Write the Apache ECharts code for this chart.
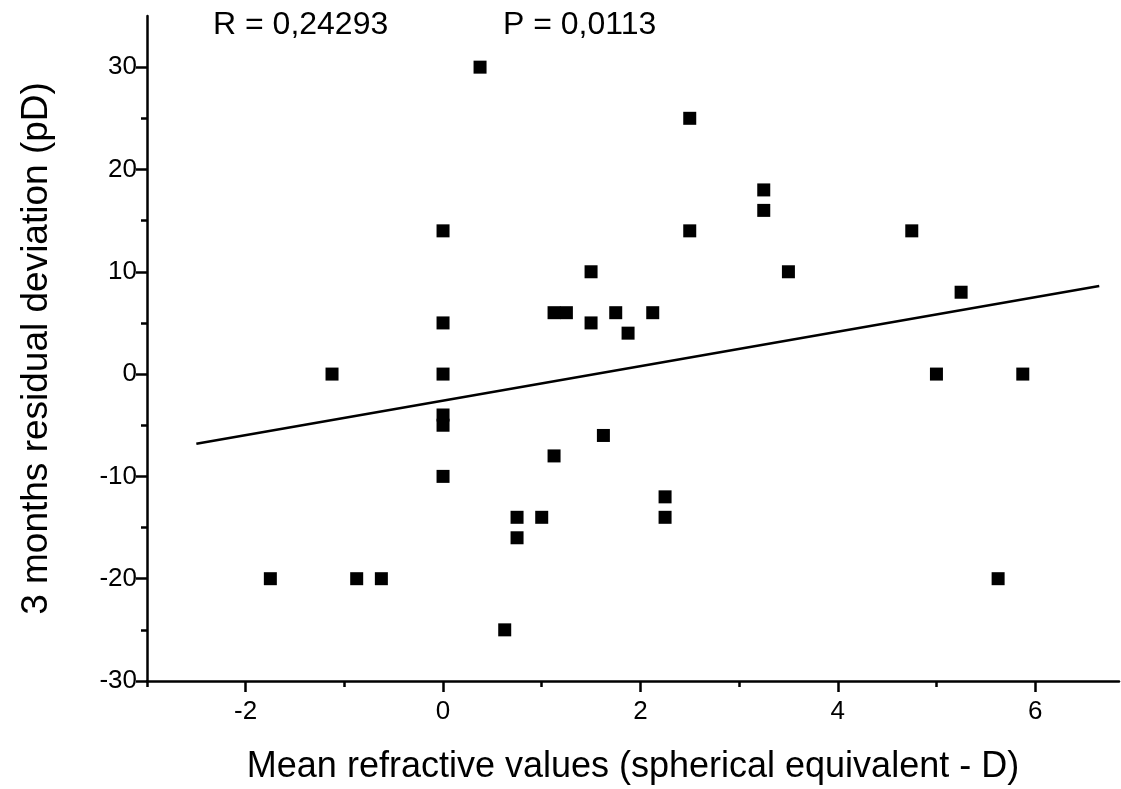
<!DOCTYPE html>
<html>
<head>
<meta charset="utf-8">
<script src="https://cdn.jsdelivr.net/npm/echarts@6/dist/echarts.min.js"></script>
<style>
html,body{margin:0;padding:0;background:#fff;}
#chart{width:1121px;height:789px;}
</style>
</head>
<body>
<div id="chart"></div>
<script>
// Data
const refractionX = [-1.75, -1.125, -0.875, -0.625, 0, 0, 0, 0, 0, 0, 0.375, 0.625, 0.75, 0.75, 1, 1.125, 1.125, 1.25, 1.5, 1.5, 1.625, 1.75, 1.875, 2.125, 2.25, 2.25, 2.5, 2.5, 3.25, 3.25, 3.5, 4.75, 5, 5.25, 5.625, 5.875];
const deviationY = [-20, 0, -20, -20, 14, 5, 0, -4, -5, -10, 30, -25, -14, -16, -14, -8, 6, 6, 10, 5, -6, 6, 4, 6, -12, -14, 25, 14, 18, 16, 10, 14, 0, 8, -20, 0];
const fitX = [-2.5, 6.65];
const fitY = [-6.8, 8.6];
const xMajorTicks = [-2, 0, 2, 4, 6];
const xMinorTicks = [-3, -1, 1, 3, 5];
const yMajorTicks = [-30, -20, -10, 0, 10, 20, 30];
const yMinorTicks = [-25, -15, -5, 5, 15, 25];
const statR = 'R = 0,24293';
const statP = 'P = 0,0113';
const xTitle = 'Mean refractive values (spherical equivalent - D)';
const yTitle = '3 months residual deviation (pD)';

const FONT = '"Liberation Sans", Arial, sans-serif';
const points = refractionX.map((x, i) => [x, deviationY[i]]);
const fitLine = fitX.map((x, i) => [x, fitY[i]]);

const chart = echarts.init(document.getElementById('chart'), null, {renderer: 'canvas'});
const axisLineStyle = {color: '#000', width: 2.5};
chart.setOption({
  animation: false,
  backgroundColor: '#fff',
  grid: {left: 147, right: 2, top: 16, bottom: 108, containLabel: false, outerBoundsMode: 'none'},
  xAxis: [{
    type: 'value', min: -3, max: 6.85,
    axisLine: {show: true, onZero: false, lineStyle: axisLineStyle},
    axisTick: {show: true, length: 11, lineStyle: {color: '#000', width: 2.5}, customValues: xMajorTicks},
    axisLabel: {show: true, customValues: xMajorTicks, color: '#000', fontSize: 26, fontFamily: FONT, margin: 18},
    splitLine: {show: false},
    name: xTitle, nameLocation: 'middle', nameGap: 68,
    nameTextStyle: {color: '#000', fontSize: 36, fontFamily: FONT}
  }, {
    type: 'value', min: -3, max: 6.85, position: 'bottom',
    axisLine: {show: false, onZero: false},
    axisTick: {show: true, length: 6, lineStyle: {color: '#000', width: 2.5}, customValues: xMinorTicks},
    axisLabel: {show: false},
    splitLine: {show: false}
  }],
  yAxis: [{
    type: 'value', min: -30, max: 35,
    axisLine: {show: true, onZero: false, lineStyle: axisLineStyle},
    axisTick: {show: true, length: 11, lineStyle: {color: '#000', width: 2.5}, customValues: yMajorTicks},
    axisLabel: {show: true, customValues: yMajorTicks, color: '#000', fontSize: 26, fontFamily: FONT, margin: 10},
    splitLine: {show: false},
    name: yTitle, nameLocation: 'middle', nameGap: 92, nameRotate: 90,
    nameTextStyle: {color: '#000', fontSize: 37, fontFamily: FONT}
  }, {
    type: 'value', min: -30, max: 35, position: 'left',
    axisLine: {show: false, onZero: false},
    axisTick: {show: true, length: 6, lineStyle: {color: '#000', width: 2.5}, customValues: yMinorTicks},
    axisLabel: {show: false},
    splitLine: {show: false}
  }],
  graphic: [
    {type: 'text', left: 213, top: 9, style: {text: statR, fill: '#000', fontSize: 32, fontFamily: FONT}},
    {type: 'text', left: 503, top: 9, style: {text: statP, fill: '#000', fontSize: 32, fontFamily: FONT}}
  ],
  series: [{
    type: 'line', data: fitLine, xAxisIndex: 0, yAxisIndex: 0,
    showSymbol: false, symbol: 'none',
    lineStyle: {color: '#000', width: 2.5}, z: 2
  }, {
    type: 'scatter', data: points, xAxisIndex: 0, yAxisIndex: 0,
    symbol: 'rect', symbolSize: 13,
    itemStyle: {color: '#000', opacity: 1}, z: 3
  }]
});
</script>
</body>
</html>
